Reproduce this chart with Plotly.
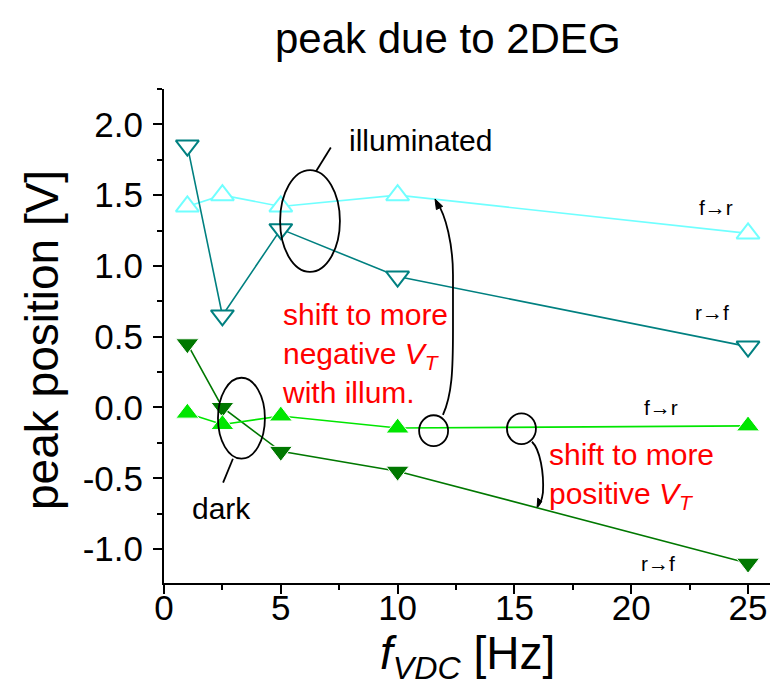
import plotly.graph_objects as go

# modulation frequency of the VDC sweep [Hz]
freq = [1, 2.5, 5, 10, 25]

# peak position [V] for each sweep direction and illumination state
illum_f_to_r = [1.42, 1.50, 1.42, 1.50, 1.23]
illum_r_to_f = [1.85, 0.65, 1.26, 0.925, 0.43]
dark_f_to_r = [-0.04, -0.12, -0.06, -0.145, -0.13]
dark_r_to_f = [0.45, 0.0, -0.31, -0.45, -1.10]

y_tick_vals = [-1.0, -0.5, 0.0, 0.5, 1.0, 1.5, 2.0]
y_tick_text = ["-1.0", "-0.5", "0.0", "0.5", "1.0", "1.5", "2.0"]
x_tick_vals = [0, 5, 10, 15, 20, 25]
x_tick_text = ["0", "5", "10", "15", "20", "25"]

FONT = "Liberation Sans, Arial, Helvetica, sans-serif"
C_ILLUM_FR = "#70FFFF"
C_ILLUM_RF = "#008080"
C_DARK_FR = "#00E600"
C_DARK_RF = "#007800"

fig = go.Figure()


def add_series(y, color, symbol, open_marker):
    marker = dict(symbol=symbol, size=20)
    if open_marker:
        marker.update(color="white", line=dict(color=color, width=2))
    else:
        marker.update(color=color, line=dict(color="white", width=1))
    fig.add_trace(go.Scatter(x=freq, y=y, mode="lines+markers",
                             line=dict(color=color, width=1.6),
                             marker=marker, showlegend=False))


add_series(illum_f_to_r, C_ILLUM_FR, "triangle-up", True)
add_series(illum_r_to_f, C_ILLUM_RF, "triangle-down", True)
add_series(dark_r_to_f, C_DARK_RF, "triangle-down", False)
add_series(dark_f_to_r, C_DARK_FR, "triangle-up", False)

black = dict(color="black", width=1.8)
shapes = [
    # groupings of illuminated / dark points at 5 Hz and 2.5 Hz
    dict(type="circle", xref="x", yref="y", x0=4.97, x1=7.53, y0=0.958, y1=1.677, line=black),
    dict(type="line", xref="x", yref="y", x0=6.51, y0=1.669, x1=7.14, y1=1.837, line=black),
    dict(type="circle", xref="x", yref="y", x0=2.31, x1=4.32, y0=-0.362, y1=0.21, line=black),
    dict(type="line", xref="x", yref="y", x0=2.95, y0=-0.362, x1=2.53, y1=-0.531, line=black),
    # small circles on the dark f->r curve
    dict(type="circle", xref="x", yref="y", x0=10.92, x1=12.16, y0=-0.273, y1=-0.055, line=black),
    dict(type="circle", xref="x", yref="y", x0=14.68, x1=15.92, y0=-0.259, y1=-0.041, line=black),
    # curved connectors
    dict(type="path", xref="x", yref="y", line=black,
         path="M 11.94,-0.052 C 12.33,0.090 12.37,0.266 12.37,0.548 "
              "L 12.37,0.937 C 12.37,1.148 12.07,1.360 11.66,1.455"),
    dict(type="path", xref="x", yref="y", line=black,
         path="M 15.75,-0.242 C 16.10,-0.298 16.27,-0.461 16.22,-0.602 "
              "C 16.18,-0.650 16.08,-0.690 15.99,-0.700"),
    # arrow heads at the ends of the connectors
    dict(type="path", xref="x", yref="y", line=dict(color="black", width=1),
         fillcolor="black", path="M 11.60,1.473 L 11.93,1.421 L 11.66,1.398 Z"),
    dict(type="path", xref="x", yref="y", line=dict(color="black", width=1),
         fillcolor="black", path="M 15.97,-0.705 L 16.00,-0.640 L 16.17,-0.665 Z"),
]

label_font = dict(family=FONT, size=30, color="black")
red_font = dict(family=FONT, size=30, color="red")
dir_font = dict(family=FONT, size=21, color="black")

annotations = [
    dict(x=10.96, y=1.889, xref="x", yref="y", text="illuminated", showarrow=False,
         xanchor="center", yanchor="middle", font=label_font),
    dict(x=2.48, y=-0.715, xref="x", yref="y", text="dark", showarrow=False,
         xanchor="center", yanchor="middle", font=label_font),
    dict(x=23.63, y=1.415, xref="x", yref="y", text="f\u2192r", showarrow=False, font=dir_font),
    dict(x=23.46, y=0.668, xref="x", yref="y", text="r\u2192f", showarrow=False, font=dir_font),
    dict(x=21.28, y=-0.002, xref="x", yref="y", text="f\u2192r", showarrow=False, font=dir_font),
    dict(x=21.15, y=-1.103, xref="x", yref="y", text="r\u2192f", showarrow=False, font=dir_font),
    dict(x=4.95, y=0.79, xref="x", yref="y", xanchor="left", yanchor="top", align="left",
         text="shift to more<br>negative <i>V</i><sub><i>T</i></sub><br>with illum.",
         showarrow=False, font=red_font),
    dict(x=16.40, y=-0.20, xref="x", yref="y", xanchor="left", yanchor="top", align="left",
         text="shift to more<br>positive <i>V</i><sub><i>T</i></sub>",
         showarrow=False, font=red_font),
    # titles
    dict(x=0.4686, y=1.103, xref="paper", yref="paper", xanchor="center", yanchor="middle",
         text="peak due to 2DEG", showarrow=False,
         font=dict(family=FONT, size=42, color="black")),
    dict(x=-0.2013, y=0.492, xref="paper", yref="paper", xanchor="center", yanchor="middle",
         text="peak position [V]", textangle=-90, showarrow=False,
         font=dict(family=FONT, size=46, color="black")),
    dict(x=0.500, y=-0.085, xref="paper", yref="paper", xanchor="center", yanchor="top",
         text="<i>f</i><sub><i>VDC</i></sub> [Hz]",
         showarrow=False, font=dict(family=FONT, size=46, color="black")),
]

axis_common = dict(showline=True, linecolor="black", linewidth=2, showgrid=False,
                   zeroline=False, ticks="outside", ticklen=9, tickwidth=2,
                   tickcolor="black", tickfont=dict(family=FONT, size=35, color="black"))

fig.update_layout(
    width=770, height=699,
    margin=dict(l=164, r=0, t=89, b=116),
    paper_bgcolor="white", plot_bgcolor="white",
    shapes=shapes, annotations=annotations,
    xaxis=dict(range=[0, 25.94], tickvals=x_tick_vals, ticktext=x_tick_text,
               ticklabelstandoff=-16,
               minor=dict(dtick=2.5, tick0=0, ticks="outside", ticklen=5, tickwidth=1.5,
                          tickcolor="black"),
               **axis_common),
    yaxis=dict(range=[-1.24, 2.25], tickvals=y_tick_vals, ticktext=y_tick_text,
               ticklabelstandoff=3,
               minor=dict(dtick=0.25, tick0=0, ticks="outside", ticklen=5, tickwidth=1.5,
                          tickcolor="black"),
               **axis_common),
)

fig.write_html("out.html")
